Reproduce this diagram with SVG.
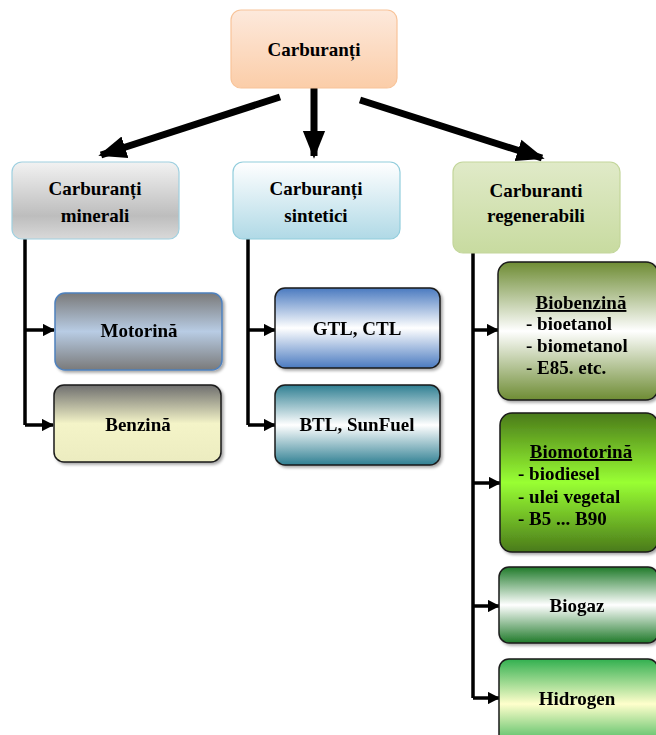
<svg xmlns="http://www.w3.org/2000/svg" width="656" height="735" viewBox="0 0 656 735">
<style>
.t{font-family:"Liberation Serif","Times New Roman",serif;font-weight:bold;font-size:19px;fill:#000;text-anchor:middle}
.l{text-anchor:start}
.u{text-decoration:underline}
.top{stroke-width:1.2}
.low{stroke:#1a1a1a;stroke-width:1.5}
.c{stroke:#000;fill:none}
</style>
<defs>
<linearGradient id="gPeach" x1="0" y1="0" x2="0" y2="1"><stop offset="0" stop-color="#fde9dc"/><stop offset="1" stop-color="#fbcda8"/></linearGradient>
<linearGradient id="gGray" x1="0" y1="0" x2="0" y2="1"><stop offset="0" stop-color="#f2f2f2"/><stop offset="0.7" stop-color="#bdbdbd"/><stop offset="1" stop-color="#d9d9d9"/></linearGradient>
<linearGradient id="gSky" x1="0" y1="0" x2="0" y2="1"><stop offset="0" stop-color="#ffffff"/><stop offset="1" stop-color="#b0d9e6"/></linearGradient>
<linearGradient id="gOlive" x1="0" y1="0" x2="0" y2="1"><stop offset="0" stop-color="#e0eac8"/><stop offset="1" stop-color="#c8dba0"/></linearGradient>
<linearGradient id="gMot" x1="0" y1="0" x2="0" y2="1"><stop offset="0" stop-color="#7a7a7a"/><stop offset="0.5" stop-color="#b8cce4"/><stop offset="1" stop-color="#7a7a7a"/></linearGradient>
<linearGradient id="gBen" x1="0" y1="0" x2="0" y2="1"><stop offset="0" stop-color="#6e6e6e"/><stop offset="0.5" stop-color="#f4f4c8"/><stop offset="1" stop-color="#ececc0"/></linearGradient>
<linearGradient id="gGtl" x1="0" y1="0" x2="0" y2="1"><stop offset="0" stop-color="#4a7ac0"/><stop offset="0.5" stop-color="#ffffff"/><stop offset="1" stop-color="#4a7ac0"/></linearGradient>
<linearGradient id="gBtl" x1="0" y1="0" x2="0" y2="1"><stop offset="0" stop-color="#2f7f92"/><stop offset="0.5" stop-color="#ffffff"/><stop offset="1" stop-color="#2f7f92"/></linearGradient>
<linearGradient id="gBb" x1="0" y1="0" x2="0" y2="1"><stop offset="0" stop-color="#6e8c34"/><stop offset="0.5" stop-color="#ffffff"/><stop offset="1" stop-color="#6e8c34"/></linearGradient>
<linearGradient id="gBm" x1="0" y1="0" x2="0" y2="1"><stop offset="0" stop-color="#4a7a1a"/><stop offset="0.5" stop-color="#99ff33"/><stop offset="1" stop-color="#4a7a1a"/></linearGradient>
<linearGradient id="gBg" x1="0" y1="0" x2="0" y2="1"><stop offset="0" stop-color="#1f7a2a"/><stop offset="0.5" stop-color="#ffffff"/><stop offset="1" stop-color="#1f7a2a"/></linearGradient>
<linearGradient id="gH" x1="0" y1="0" x2="0" y2="1"><stop offset="0" stop-color="#33b050"/><stop offset="0.5" stop-color="#ffffcc"/><stop offset="1" stop-color="#33b050"/></linearGradient>
<marker id="big" viewBox="0 0 10 10" refX="9" refY="5" markerWidth="4" markerHeight="4" orient="auto" markerUnits="strokeWidth"><path d="M0,1 L10,5 L0,9 Z" fill="#000"/></marker>
<marker id="sm" viewBox="0 0 10 10" refX="9" refY="5" markerWidth="3.5" markerHeight="3.5" orient="auto" markerUnits="strokeWidth"><path d="M0,0 L10,5 L0,10 Z" fill="#000"/></marker>
<filter id="sh" x="-5%" y="-5%" width="115%" height="120%"><feDropShadow dx="2" dy="2" stdDeviation="1.5" flood-color="#000" flood-opacity="0.35"/></filter>
</defs>

<g id="connectors">
<line class="c" x1="280" y1="97" x2="101" y2="155" stroke-width="7" marker-end="url(#big)"/>
<line class="c" x1="314" y1="88" x2="314" y2="156" stroke-width="7" marker-end="url(#big)"/>
<line class="c" x1="360" y1="100" x2="542" y2="158" stroke-width="7" marker-end="url(#big)"/>
<polyline class="c" points="25,239 25,425" stroke-width="3.5"/>
<line class="c" x1="25" y1="330" x2="54" y2="330" stroke-width="3.5" marker-end="url(#sm)"/>
<line class="c" x1="25" y1="425" x2="53" y2="425" stroke-width="3.5" marker-end="url(#sm)"/>
<polyline class="c" points="248,239 248,425" stroke-width="3.5"/>
<line class="c" x1="248" y1="330" x2="275" y2="330" stroke-width="3.5" marker-end="url(#sm)"/>
<line class="c" x1="248" y1="425" x2="275" y2="425" stroke-width="3.5" marker-end="url(#sm)"/>
<polyline class="c" points="473,253 473,698" stroke-width="3.5"/>
<line class="c" x1="473" y1="330" x2="498" y2="330" stroke-width="3.5" marker-end="url(#sm)"/>
<line class="c" x1="473" y1="483" x2="500" y2="483" stroke-width="3.5" marker-end="url(#sm)"/>
<line class="c" x1="473" y1="606" x2="499" y2="606" stroke-width="3.5" marker-end="url(#sm)"/>
<line class="c" x1="473" y1="698" x2="499" y2="698" stroke-width="3.5" marker-end="url(#sm)"/>
</g>

<g id="carburanti">
<rect class="top" x="231" y="10" width="166" height="78" rx="10" fill="url(#gPeach)" stroke="#f8c49a"/>
<text class="t" x="314" y="56">Carburanți</text>
</g>
<g id="minerali">
<rect class="top" x="12" y="162" width="167" height="77" rx="10" fill="url(#gGray)" stroke="#9fd0e0"/>
<text class="t" x="95" y="195">Carburanți</text>
<text class="t" x="95" y="222">minerali</text>
</g>
<g id="sintetici">
<rect class="top" x="233" y="162" width="167" height="77" rx="10" fill="url(#gSky)" stroke="#92cddc"/>
<text class="t" x="316" y="195">Carburanți</text>
<text class="t" x="316" y="222">sintetici</text>
</g>
<g id="regenerabili">
<rect class="top" x="453" y="162" width="167" height="91" rx="10" fill="url(#gOlive)" stroke="#c3d69b"/>
<text class="t" x="536" y="197">Carburanti</text>
<text class="t" x="536" y="222">regenerabili</text>
</g>

<g id="motorina" filter="url(#sh)">
<rect x="55" y="293" width="167" height="77" rx="10" fill="url(#gMot)" stroke="#4f81bd" stroke-width="1.5"/>
<text class="t" x="139" y="337">Motorină</text>
</g>
<g id="benzina" filter="url(#sh)">
<rect class="low" x="54" y="385" width="167" height="77" rx="10" fill="url(#gBen)"/>
<text class="t" x="138" y="431">Benzină</text>
</g>
<g id="gtl" filter="url(#sh)">
<rect class="low" x="275" y="288" width="165" height="80" rx="10" fill="url(#gGtl)"/>
<text class="t" x="357" y="335">GTL, CTL</text>
</g>
<g id="btl" filter="url(#sh)">
<rect class="low" x="275" y="385" width="165" height="80" rx="10" fill="url(#gBtl)"/>
<text class="t" x="357" y="431">BTL, SunFuel</text>
</g>
<g id="biobenzina" filter="url(#sh)">
<rect class="low" x="498" y="262" width="160" height="138" rx="12" fill="url(#gBb)"/>
<text class="t u" x="581" y="309">Biobenzină</text>
<text class="t l" x="526" y="330">- bioetanol</text>
<text class="t l" x="526" y="352">- biometanol</text>
<text class="t l" x="526" y="374">- E85. etc.</text>
</g>
<g id="biomotorina" filter="url(#sh)">
<rect class="low" x="500" y="413" width="158" height="139" rx="12" fill="url(#gBm)"/>
<text class="t u" x="581" y="458">Biomotorină</text>
<text class="t l" x="518" y="480">- biodiesel</text>
<text class="t l" x="518" y="503">- ulei vegetal</text>
<text class="t l" x="518" y="525">- B5 ... B90</text>
</g>
<g id="biogaz" filter="url(#sh)">
<rect class="low" x="499" y="567" width="159" height="76" rx="10" fill="url(#gBg)"/>
<text class="t" x="577" y="612">Biogaz</text>
</g>
<g id="hidrogen" filter="url(#sh)">
<rect class="low" x="499" y="659" width="159" height="90" rx="10" fill="url(#gH)"/>
<text class="t" x="577" y="705">Hidrogen</text>
</g>
</svg>
